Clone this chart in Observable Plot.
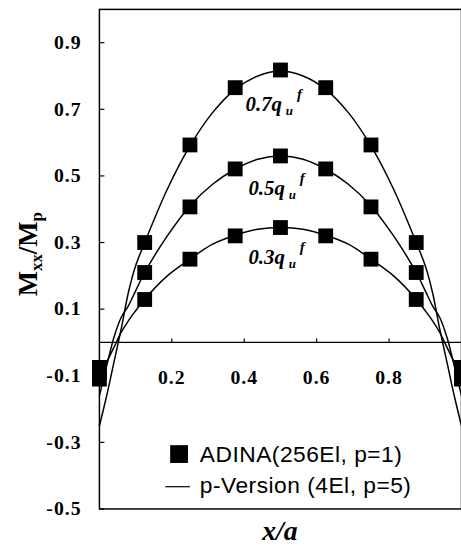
<!DOCTYPE html>
<html><head><meta charset="utf-8">
<script src="https://cdn.jsdelivr.net/npm/d3@7"></script>
<script src="https://cdn.jsdelivr.net/npm/@observablehq/plot@0.6"></script>
<style>
html,body{margin:0;padding:0;background:#fff;overflow:hidden;}
#chart svg{display:block;overflow:hidden;}
</style></head><body><div id="chart"></div>
<script>
// ADINA (256El, p=1) reference values
const adinaX  = [0, 0.125, 0.25, 0.375, 0.5, 0.625, 0.75, 0.875, 1];
const adina07 = [-0.11, 0.30, 0.593, 0.765, 0.818, 0.765, 0.593, 0.30, -0.11];
const adina05 = [-0.09, 0.21, 0.407, 0.521, 0.56, 0.521, 0.407, 0.21, -0.09];
const adina03 = [-0.075, 0.129, 0.25, 0.32, 0.345, 0.32, 0.25, 0.129, -0.075];

// p-Version (4El, p=5) curves
const pX  = [0, 0.02, 0.04, 0.06, 0.08, 0.1, 0.125, 0.1875, 0.25, 0.3125, 0.375, 0.4375, 0.5,
             0.5625, 0.625, 0.6875, 0.75, 0.8125, 0.875, 0.9, 0.92, 0.94, 0.96, 0.98, 1];
const p07 = [-0.25, -0.16, -0.06, 0.04, 0.15, 0.23, 0.30, 0.46, 0.59, 0.69, 0.76, 0.80, 0.815,
             0.80, 0.76, 0.69, 0.59, 0.46, 0.30, 0.23, 0.15, 0.04, -0.06, -0.16, -0.25];
const p05 = [-0.16, -0.07, 0.015, 0.075, 0.11, 0.155, 0.21, 0.32, 0.41, 0.475, 0.52, 0.55, 0.56,
             0.55, 0.52, 0.475, 0.41, 0.32, 0.21, 0.155, 0.11, 0.075, 0.015, -0.07, -0.16];
const p03 = [-0.11, -0.06, -0.015, 0.03, 0.065, 0.095, 0.13, 0.20, 0.25, 0.295, 0.322, 0.34, 0.345,
             0.34, 0.322, 0.295, 0.25, 0.20, 0.13, 0.095, 0.065, 0.03, -0.015, -0.06, -0.11];

const loadNames = ["0.7", "0.5", "0.3"];
const yTicks = [-0.5, -0.3, -0.1, 0.1, 0.3, 0.5, 0.7, 0.9];
const xTicks = [0.2, 0.4, 0.6, 0.8];

const adinaSeries = [adina07, adina05, adina03];
const pSeries = [p07, p05, p03];
const adinaData = loadNames.flatMap((s, k) => adinaX.map((x, i) => ({x, y: adinaSeries[k][i], s})));
const pData = loadNames.flatMap((s, k) => pX.map((x, i) => ({x, y: pSeries[k][i], s})));

const SERIF = "Liberation Serif";
const SANS = "Liberation Sans";

const square = {draw(ctx) { ctx.rect(-7.5, -7.5, 15, 15); }};
const hTick = {draw(ctx) { ctx.moveTo(0, 0); ctx.lineTo(5, 0); }};
const vTick = {draw(ctx) { ctx.moveTo(0, 0); ctx.lineTo(0, -4); }};

const plot = Plot.plot({
  width: 466, height: 554,
  marginLeft: 100, marginRight: 0, marginTop: 9, marginBottom: 40,
  x: {domain: [0, 1], axis: null},
  y: {domain: [-0.5, 1.0], axis: null},
  style: {background: "white", overflow: "hidden"},
  marks: [
    Plot.frame({stroke: "black", strokeWidth: 1.5}),
    Plot.ruleY([0], {stroke: "black", strokeWidth: 1.2}),
    Plot.dot(yTicks, {x: 0, y: d => d, symbol: hTick, stroke: "black", fill: "none", strokeWidth: 1.2}),
    Plot.dot(xTicks, {x: d => d, y: 0, symbol: vTick, stroke: "black", fill: "none", strokeWidth: 1.2}),
    Plot.text(yTicks, {x: 0, y: d => d, text: d => d.toFixed(1), textAnchor: "end", dx: -18,
      fontFamily: SERIF, fontWeight: "bold", fontSize: 20, fill: "black"}),
    Plot.text(xTicks, {x: d => d, y: 0, text: d => d.toFixed(1), dy: 36,
      fontFamily: SERIF, fontWeight: "bold", fontSize: 20, fill: "black"}),
    Plot.line(pData, {x: "x", y: "y", z: "s", curve: "catmull-rom", stroke: "black", strokeWidth: 1.5}),
    Plot.dot(adinaData, {x: "x", y: "y", symbol: square, fill: "black", stroke: "none"})
  ]
});

document.getElementById("chart").appendChild(plot);

const svg = d3.select(plot);
svg.selectAll("text").style("letter-spacing", "1px");
const X = plot.scale("x"), Y = plot.scale("y");

// y-axis title
const yt = svg.append("text")
  .attr("transform", "translate(37,257) rotate(-90)")
  .attr("text-anchor", "middle")
  .style("font-family", SERIF).style("font-weight", "bold").style("font-size", "27px");
yt.append("tspan").text("M");
yt.append("tspan").attr("dy", 5).style("font-size", "17px").text("xx");
yt.append("tspan").attr("dy", -5).text("/M");
yt.append("tspan").attr("dy", 5).style("font-size", "17px").text("p");

// x-axis title
svg.append("text").attr("x", X.apply(0.5)).attr("y", 546).attr("text-anchor", "middle")
  .style("font-family", SERIF).style("font-weight", "bold").style("font-style", "italic")
  .style("font-size", "28px").text("x/a");

// curve annotations
const notes = [["0.7", 0.405, 0.693], ["0.5", 0.413, 0.441], ["0.3", 0.413, 0.233]];
for (const [lab, ax, ay] of notes) {
  const t = svg.append("text").attr("x", X.apply(ax)).attr("y", Y.apply(ay))
    .attr("text-anchor", "start")
    .style("font-family", SERIF).style("font-weight", "bold").style("font-style", "italic")
    .style("font-size", "21px");
  t.append("tspan").text(lab + "q");
  t.append("tspan").attr("dx", 4).attr("dy", 4).style("font-size", "13px").text("u");
  t.append("tspan").attr("dx", 4).attr("dy", -16).style("font-size", "15px").text("f");
}

// legend
const lg = svg.append("g").attr("text-anchor", "start").style("letter-spacing", "0.5px");
lg.append("rect").attr("x", 172).attr("y", 450).attr("width", 18).attr("height", 18).attr("fill", "black");
lg.append("text").attr("x", 202).attr("y", 467).style("font-family", SANS).style("font-size", "23px")
  .text("ADINA(256El, p=1)");
lg.append("line").attr("x1", 167).attr("x2", 192).attr("y1", 492).attr("y2", 492)
  .attr("stroke", "black").attr("stroke-width", 1.2);
lg.append("text").attr("x", 202).attr("y", 498).style("font-family", SANS).style("font-size", "23px")
  .text("p-Version (4El, p=5)");
</script>
</body></html>
